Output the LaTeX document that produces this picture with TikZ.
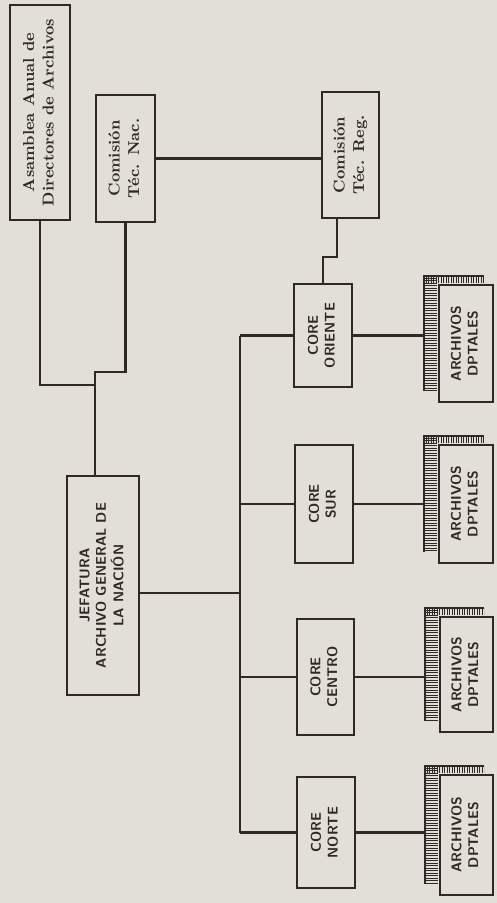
\documentclass[tikz,border=0pt]{standalone}
\usepackage{graphicx}
\usetikzlibrary{positioning, calc}

\newlength{\pxu}
\setlength{\pxu}{0.02cm}
\newcommand{\vtext}[1]{\rotatebox{90}{\begin{tabular}{@{}c@{}}#1\end{tabular}}}
\definecolor{paper}{RGB}{226,223,216}
\definecolor{ink}{RGB}{48,40,36}

\begin{document}
\begin{tikzpicture}[x=0.02cm, y=-0.02cm,
            box/.style={draw=ink, line width=1.3pt, rectangle, inner sep=0pt, text=ink, font=\small\bfseries},
            capsbox/.style={box, font=\sffamily\bfseries\footnotesize},
            edge/.style={draw=ink, line width=1.3pt},
            sheet/.style={draw=ink, line width=0.6pt}
        ]

        % Hintergrund
        \fill[paper] (0,0) rectangle (497,903);
        \useasboundingbox (0,0) rectangle (497,903);

        % Kaesten
        \node[box, minimum width=60\pxu, minimum height=215\pxu] (asam) at (40,112.5) {\vtext{Asamblea Anual de\\ Directores de Archivos}};
        \node[box, minimum width=59\pxu, minimum height=127\pxu] (nac) at (125.5,158.5) {\vtext{Comisión\\ Téc. Nac.}};
        \node[box, minimum width=57\pxu, minimum height=126\pxu] (reg) at (350.5,155) {\vtext{Comisión\\ Téc. Reg.}};
        \node[capsbox, minimum width=72\pxu, minimum height=219\pxu] (jef) at (103,585.5) {\vtext{JEFATURA\\ ARCHIVO GENERAL DE\\ LA NACIÓN}};

        \node[capsbox, minimum width=58\pxu, minimum height=103\pxu] (ori) at (323,335.5) {\vtext{CORE\\ ORIENTE}};
        \node[capsbox, minimum width=58\pxu, minimum height=118\pxu] (sur) at (324,504) {\vtext{CORE\\ SUR}};
        \node[capsbox, minimum width=57\pxu, minimum height=116\pxu] (cen) at (325.5,677) {\vtext{CORE\\ CENTRO}};
        \node[capsbox, minimum width=58\pxu, minimum height=111\pxu] (nor) at (326,832.5) {\vtext{CORE\\ NORTE}};

        \node[capsbox, minimum width=54\pxu, minimum height=117\pxu] (ar1) at (466,343.5) {\vtext{ARCHIVOS\\ DPTALES}};
        \node[capsbox, minimum width=54\pxu, minimum height=118\pxu] (ar2) at (466,504) {\vtext{ARCHIVOS\\ DPTALES}};
        \node[capsbox, minimum width=53\pxu, minimum height=115\pxu] (ar3) at (466.5,674.5) {\vtext{ARCHIVOS\\ DPTALES}};
        \node[capsbox, minimum width=53\pxu, minimum height=120\pxu] (ar4) at (466.5,835) {\vtext{ARCHIVOS\\ DPTALES}};

        % Aktenstapel hinter den Archiven
        \foreach \a in {ar1, ar2, ar3, ar4} {
            \coordinate (\a-s) at ($(\a.west)+(-14,0)$);
            \begin{scope}
                \clip ($(\a.north west)+(-14,-8)$) rectangle ($(\a.south west)+(0,-12)$);
                \foreach \k in {0,2.5,...,150}
                    \draw[sheet] ($(\a.north west)+(-14,\k-8)$) -- ++(13,0);
            \end{scope}
            \begin{scope}
                \clip ($(\a.north west)+(-14,-8)$) rectangle ($(\a.north east)+(-10,0)$);
                \foreach \k in {0,2.5,...,90}
                    \draw[sheet] ($(\a.north west)+(\k-14,-8)$) -- ++(0,7);
            \end{scope}
            \draw[edge, line width=0.9pt] ($(\a.south west)+(-14,-12)$) -- ($(\a.north west)+(-14,-8)$) -- ($(\a.north east)+(-10,-8)$);
        }

        % Linien
        \coordinate (ja) at (95,385);
        \coordinate (jn) at (95,372);
        \coordinate (rk) at (337,257);
        \coordinate (bt) at (240,342);
        \coordinate (jb) at (240,593);

        \draw[edge] (asam.south) |- (ja);
        \draw[edge] (nac.south) |- (jn) -- (jn |- jef.north);
        \draw[edge] (nac.east) -- (nac.east -| reg.west);
        \draw[edge] (reg.south -| rk) -- (rk) -| (ori.north);
        \draw[edge] (jb -| jef.east) -- (jb);
        \draw[edge] (ori.west -| bt) -- (nor.west -| bt);
        \foreach \c in {ori, sur, cen, nor}
            \draw[edge] (\c.west -| bt) -- (\c.west);
        \draw[edge] (ori.east) -- (ori.east -| ar1-s);
        \draw[edge] (sur.east) -- (sur.east -| ar2-s);
        \draw[edge] (cen.east) -- (cen.east -| ar3-s);
        \draw[edge] (nor.east) -- (nor.east -| ar4-s);

    \end{tikzpicture}
\end{document}
